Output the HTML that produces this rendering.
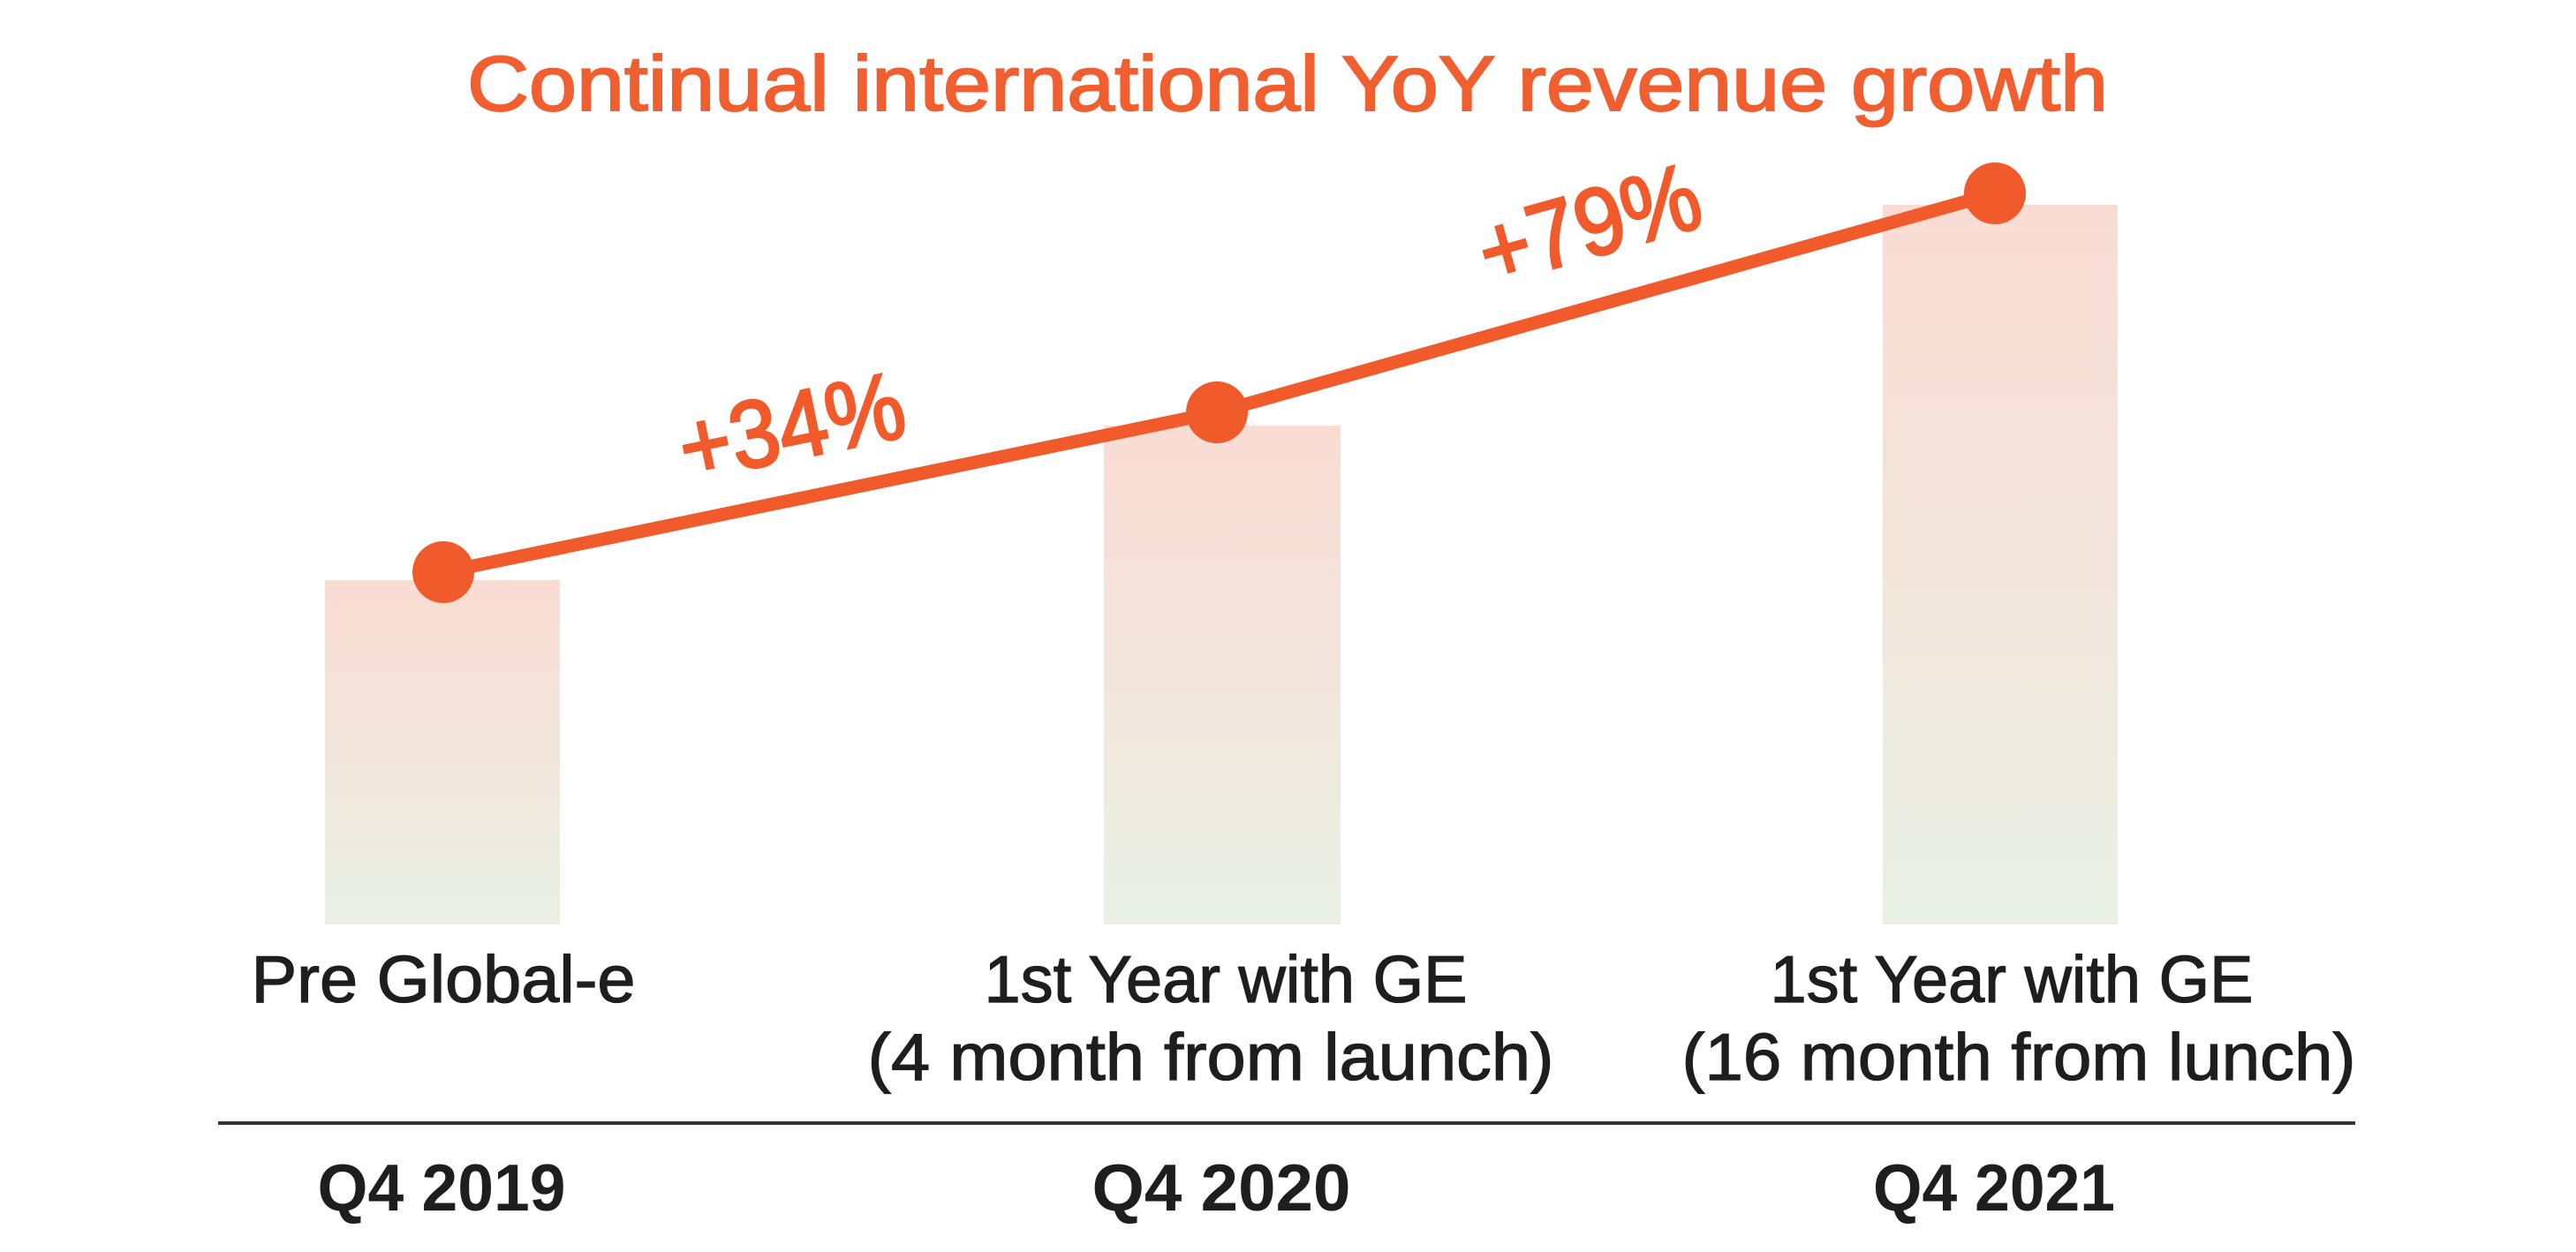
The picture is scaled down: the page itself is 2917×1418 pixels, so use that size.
<!DOCTYPE html>
<html>
<head>
<meta charset="utf-8">
<style>
  html, body { margin: 0; padding: 0; background: #ffffff; }
  body { width: 2917px; height: 1418px; overflow: hidden; }
  svg { display: block; }
  text { font-family: "Liberation Sans", Arial, sans-serif; }
</style>
</head>
<body>
<svg width="2917" height="1418" viewBox="0 0 2917 1418" xmlns="http://www.w3.org/2000/svg">
  <defs>
    <linearGradient id="barGrad" x1="0" y1="0" x2="0" y2="1">
      <stop offset="0" stop-color="#fadcd3"/>
      <stop offset="0.5" stop-color="#f2e6dc"/>
      <stop offset="1" stop-color="#e8f0e4"/>
    </linearGradient>
  </defs>
  <rect x="0" y="0" width="2917" height="1418" fill="#ffffff"/>

  <!-- Title -->
  <text x="529" y="125" font-size="88" fill="#f15e2f" stroke="#f15e2f" stroke-width="2"
        textLength="1858" lengthAdjust="spacingAndGlyphs">Continual international YoY revenue growth</text>

  <!-- Bars -->
  <rect x="368" y="657" width="266" height="390" fill="url(#barGrad)"/>
  <rect x="1250" y="482" width="268" height="565" fill="url(#barGrad)"/>
  <rect x="2132" y="232" width="266" height="815" fill="url(#barGrad)"/>

  <!-- Line -->
  <polyline points="502,648 1378,467 2259,219" fill="none" stroke="#f15a2b" stroke-width="15" stroke-linejoin="round"/>
  <circle cx="502" cy="648" r="35" fill="#f15a2b"/>
  <circle cx="1378" cy="467" r="35" fill="#f15a2b"/>
  <circle cx="2259" cy="219" r="35" fill="#f15a2b"/>

  <!-- Growth labels -->
  <g transform="translate(896,481) rotate(-11.6)">
    <text x="0" y="39" font-size="108" text-anchor="middle" fill="#f15a2b" stroke="#f15a2b" stroke-width="3"
          textLength="258" lengthAdjust="spacingAndGlyphs">+34%</text>
  </g>
  <g transform="translate(1799,252) rotate(-15.7)">
    <text x="0" y="39" font-size="108" text-anchor="middle" fill="#f15a2b" stroke="#f15a2b" stroke-width="3"
          textLength="256" lengthAdjust="spacingAndGlyphs">+79%</text>
  </g>

  <!-- Category labels -->
  <g font-size="75" fill="#1e1e1e" stroke="#1e1e1e" stroke-width="1.3" text-anchor="middle">
    <text x="502" y="1135" textLength="435" lengthAdjust="spacingAndGlyphs">Pre Global-e</text>
    <text x="1388" y="1135" textLength="547" lengthAdjust="spacingAndGlyphs">1st Year with GE</text>
    <text x="1371" y="1223" textLength="777" lengthAdjust="spacingAndGlyphs">(4 month from launch)</text>
    <text x="2278" y="1135" textLength="547" lengthAdjust="spacingAndGlyphs">1st Year with GE</text>
    <text x="2286" y="1223" textLength="763" lengthAdjust="spacingAndGlyphs">(16 month from lunch)</text>
  </g>

  <!-- Axis line -->
  <rect x="247" y="1270" width="2420" height="4" fill="#333333"/>

  <!-- Quarter labels -->
  <g font-size="75" font-weight="bold" fill="#1e1e1e" text-anchor="middle">
    <text x="500" y="1371" textLength="281" lengthAdjust="spacingAndGlyphs">Q4 2019</text>
    <text x="1383" y="1371" textLength="293" lengthAdjust="spacingAndGlyphs">Q4 2020</text>
    <text x="2258" y="1371" textLength="274" lengthAdjust="spacingAndGlyphs">Q4 2021</text>
  </g>
</svg>
</body>
</html>
